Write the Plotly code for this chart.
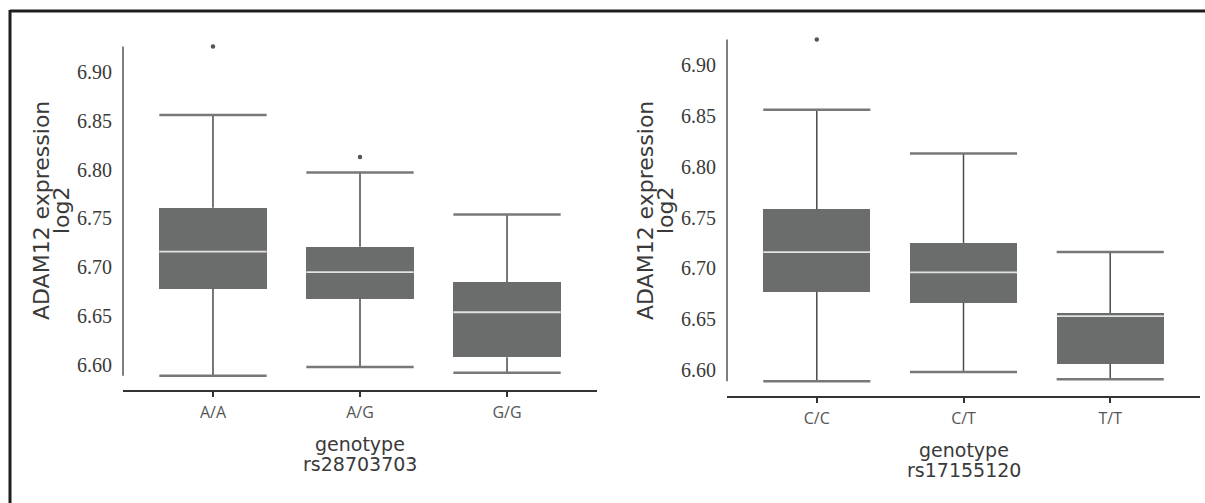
import plotly.graph_objects as go

# ---------------- data ----------------
left_cats = ["A/A", "A/G", "G/G"]
left_q1 = [6.678, 6.668, 6.608]
left_med = [6.716, 6.695, 6.654]
left_q3 = [6.761, 6.721, 6.685]
left_lo = [6.589, 6.598, 6.592]
left_hi = [6.856, 6.797, 6.754]
left_out_idx = [0, 1]
left_out_val = [6.926, 6.813]

right_cats = ["C/C", "C/T", "T/T"]
right_q1 = [6.677, 6.666, 6.606]
right_med = [6.716, 6.696, 6.653]
right_q3 = [6.758, 6.725, 6.656]
right_lo = [6.589, 6.598, 6.591]
right_hi = [6.856, 6.813, 6.716]
right_out_idx = [0]
right_out_val = [6.925]

y_ticks = [6.60, 6.65, 6.70, 6.75, 6.80, 6.85, 6.90]
y_title = "ADAM12 expression"
y_title2 = "log2"
x_title = "genotype"
left_snp = "rs28703703"
right_snp = "rs17155120"

W, H = 1205, 503
BOX_W = 0.73
BOX_COLOR = "#6b6d6d"
WHISK_COLOR = "#4a4a4a"
CAP_COLOR = "#787878"
MED_COLOR = "#e2e2e2"
TEXT_COLOR = "#3a3a3a"
TITLE_FONT = "DejaVu Sans"

fig = go.Figure()


def add_panel(xa, ya, q1, med, q3, lo, hi, out_idx, out_val):
    xs = list(range(len(q1)))
    half = BOX_W / 2
    # whiskers
    wx, wy = [], []
    for i in xs:
        wx += [i, i, None, i, i, None]
        wy += [lo[i], q1[i], None, q3[i], hi[i], None]
    fig.add_trace(go.Scatter(x=wx, y=wy, mode="lines", xaxis=xa, yaxis=ya,
                             line=dict(color=WHISK_COLOR, width=1.5),
                             hoverinfo="skip", showlegend=False))
    # boxes
    fig.add_trace(go.Bar(x=xs, y=[q3[i] - q1[i] for i in xs], base=q1,
                         width=BOX_W, xaxis=xa, yaxis=ya,
                         marker=dict(color=BOX_COLOR, line=dict(width=0)),
                         showlegend=False))
    # caps
    cx, cy = [], []
    for i in xs:
        cx += [i - half, i + half, None, i - half, i + half, None]
        cy += [lo[i], lo[i], None, hi[i], hi[i], None]
    fig.add_trace(go.Scatter(x=cx, y=cy, mode="lines", xaxis=xa, yaxis=ya,
                             line=dict(color=CAP_COLOR, width=2.5),
                             hoverinfo="skip", showlegend=False))
    # medians
    mx, my = [], []
    for i in xs:
        mx += [i - half, i + half, None]
        my += [med[i], med[i], None]
    fig.add_trace(go.Scatter(x=mx, y=my, mode="lines", xaxis=xa, yaxis=ya,
                             line=dict(color=MED_COLOR, width=1.8),
                             hoverinfo="skip", showlegend=False))
    # outliers
    fig.add_trace(go.Scatter(x=out_idx, y=out_val, mode="markers", xaxis=xa, yaxis=ya,
                             marker=dict(color="#555555", size=4.5, symbol="circle"),
                             showlegend=False))


add_panel("x", "y", left_q1, left_med, left_q3, left_lo, left_hi, left_out_idx, left_out_val)
add_panel("x2", "y2", right_q1, right_med, right_q3, right_lo, right_hi, right_out_idx, right_out_val)

xaxis_common = dict(
    range=[-0.612, 2.612], showgrid=False, zeroline=False,
    showline=True, linecolor="#333333", linewidth=1.5,
    ticks="outside", ticklen=5, tickwidth=1.5, tickcolor="#333333",
    tickvals=[0, 1, 2],
    tickfont=dict(family="Open Sans", size=16, color="#555555"),
    ticklabelstandoff=2,
)
yaxis_common = dict(
    showgrid=False, zeroline=False, showline=False, ticks="",
    tickvals=y_ticks, ticktext=[f"{v:.2f}" for v in y_ticks],
    tickfont=dict(family="Liberation Serif", size=20, color=TEXT_COLOR),
    ticklabelstandoff=10,
)

fig.update_layout(
    width=W, height=H,
    margin=dict(l=0, r=0, t=0, b=0),
    paper_bgcolor="white", plot_bgcolor="white",
    bargap=0,
    showlegend=False,
    xaxis=dict(domain=[123 / W, 597 / W], ticktext=left_cats, anchor="y", **xaxis_common),
    yaxis=dict(domain=[1 - 390 / H, 1 - 40 / H], range=[6.5744, 6.93275], anchor="x", **yaxis_common),
    xaxis2=dict(domain=[727 / W, 1200 / W], ticktext=right_cats, anchor="y2", **xaxis_common),
    yaxis2=dict(domain=[1 - 396 / H, 1 - 35 / H], range=[6.57443, 6.9295], anchor="x2", **yaxis_common),
)

# y-axis spines spanning the data range
left_min = min(left_lo + left_out_val)
left_max = max(left_hi + left_out_val)
right_min = min(right_lo + right_out_val)
right_max = max(right_hi + right_out_val)
fig.add_shape(type="line", xref="paper", yref="y", x0=123 / W, x1=123 / W,
              y0=left_min, y1=left_max, line=dict(color="#555555", width=1.5))
fig.add_shape(type="line", xref="paper", yref="y2", x0=727 / W, x1=727 / W,
              y0=right_min, y1=right_max, line=dict(color="#555555", width=1.5))

# outer frame (left and top edges)
fig.add_shape(type="line", xref="paper", yref="paper", x0=10 / W, x1=10 / W,
              y0=0, y1=1 - 10 / H, line=dict(color="#1e1e1e", width=3))
fig.add_shape(type="line", xref="paper", yref="paper", x0=10 / W, x1=1,
              y0=1 - 11 / H, y1=1 - 11 / H, line=dict(color="#1e1e1e", width=3))

tfont = dict(family=TITLE_FONT, size=22, color=TEXT_COLOR)
xfont = dict(family=TITLE_FONT, size=19, color=TEXT_COLOR)


def ann(text, px, py, font, angle=0):
    fig.add_annotation(text=text, x=px / W, y=1 - py / H, xref="paper", yref="paper",
                       showarrow=False, textangle=angle, font=font,
                       xanchor="center", yanchor="middle")


# y titles
ann(y_title, 41, 211, tfont, -90)
ann(y_title2, 61, 210, tfont, -90)
ann(y_title, 645, 211, tfont, -90)
ann(y_title2, 665, 210, tfont, -90)
# x titles
ann(x_title, 360, 444, xfont)
ann(left_snp, 360, 464, xfont)
ann(x_title, 964, 450, xfont)
ann(right_snp, 964, 470, xfont)

fig.write_html("out.html", config={"displayModeBar": False},
               post_script="document.body.style.margin='0';")
